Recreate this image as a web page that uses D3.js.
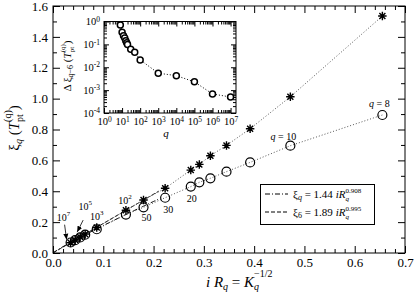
<!DOCTYPE html>
<html>
<head>
<meta charset="utf-8">
<script src="https://cdn.jsdelivr.net/npm/d3@7"></script>
<style>
body { margin: 0; background: #fff; }
svg, svg text { font-family: "Liberation Serif", "Times New Roman", serif; }
</style>
</head>
<body>
<svg width="415" height="298" font-family="Liberation Serif"></svg>
<script>
// q values (one point per q) and iR_q = K_q^(-1/2)
var qValues = [8, 10, 12, 14, 16, 18, 20, 30, 50, 1e2, 1e3, 1e4, 1e5, 1e6, 1e7];
var iR = [0.655, 0.472, 0.392, 0.345, 0.313, 0.291, 0.274, 0.223, 0.180, 0.145, 0.087, 0.064, 0.054, 0.044, 0.035];
// xi_6 (stars) and xi_q (circles)
var xi6 = [1.535, 1.012, 0.805, 0.697, 0.630, 0.574, 0.537, 0.419, 0.343, 0.277, 0.165, 0.122, 0.103, 0.084, 0.067];
var xiQ = [0.894, 0.695, 0.587, 0.527, 0.484, 0.458, 0.430, 0.358, 0.296, 0.249, 0.154, 0.119, 0.101, 0.083, 0.068];
// inset: delta xi_(q-6) vs q
var deltaXi = [0.70, 0.34, 0.24, 0.19, 0.145, 0.118, 0.10, 0.061, 0.045, 0.021, 0.0055, 0.0043, 0.0023, 0.00068, 0.0005];

// power-law fits from the legend: [coef, exponent]
var fitQ = [1.44, 0.908];
var fit6 = [1.89, 0.995];
var fitEnd = 0.21;

var xTicks = [0, 0.1, 0.2, 0.3, 0.4, 0.5, 0.6, 0.7];
var yTicks = [0, 0.2, 0.4, 0.6, 0.8, 1.0, 1.2, 1.4, 1.6];
var insetXExp = [0, 1, 2, 3, 4, 5, 6, 7];
var insetYExp = [0, -1, -2, -3, -4];

var FONT = '"Liberation Serif", "Times New Roman", serif';
var svg = d3.select('svg');

var x = d3.scaleLinear().domain([0, 0.7]).range([53, 405]);
var y = d3.scaleLinear().domain([0, 1.6]).range([253, 6]);

var xMinor = d3.range(0, 0.7001, 0.02).filter(v => Math.abs(v * 10 - Math.round(v * 10)) > 1e-6);
var yMinor = d3.range(0.1, 1.6, 0.2);

function styleAxis(g, fs) {
  g.attr('font-family', FONT).attr('font-size', fs);
  g.select('.domain').remove();
  g.selectAll('line').attr('stroke', '#000');
}

// main axes, ticks pointing inward on all four sides
svg.append('g').attr('transform', 'translate(0,253)')
  .call(d3.axisBottom(x).tickValues(xTicks).tickSize(-7).tickPadding(5).tickFormat(d3.format('.1f')))
  .call(g => styleAxis(g, 13));
svg.append('g').attr('transform', 'translate(0,253)')
  .call(d3.axisBottom(x).tickValues(xMinor).tickSize(-4).tickFormat(''))
  .call(g => styleAxis(g, 13));
svg.append('g').attr('transform', 'translate(0,6)')
  .call(d3.axisTop(x).tickValues(xTicks).tickSize(-7).tickFormat(''))
  .call(g => styleAxis(g, 13));
svg.append('g').attr('transform', 'translate(0,6)')
  .call(d3.axisTop(x).tickValues(xMinor).tickSize(-4).tickFormat(''))
  .call(g => styleAxis(g, 13));

svg.append('g').attr('transform', 'translate(53,0)')
  .call(d3.axisLeft(y).tickValues(yTicks).tickSize(-7).tickPadding(5).tickFormat(d3.format('.1f')))
  .call(g => styleAxis(g, 13));
svg.append('g').attr('transform', 'translate(53,0)')
  .call(d3.axisLeft(y).tickValues(yMinor).tickSize(-4).tickFormat(''))
  .call(g => styleAxis(g, 13));
svg.append('g').attr('transform', 'translate(405,0)')
  .call(d3.axisRight(y).tickValues(yTicks).tickSize(-7).tickFormat(''))
  .call(g => styleAxis(g, 13));
svg.append('g').attr('transform', 'translate(405,0)')
  .call(d3.axisRight(y).tickValues(yMinor).tickSize(-4).tickFormat(''))
  .call(g => styleAxis(g, 13));

svg.append('rect')
  .attr('x', 53).attr('y', 6).attr('width', 352).attr('height', 247)
  .attr('fill', 'none').attr('stroke', '#000').attr('stroke-width', 1);

// stacked sub/superscript helper, returns what the next tspan needs
function stacked(t, sup, sub, fs, up, down, supItalic, subItalic) {
  var a = t.append('tspan').attr('font-size', fs).attr('dy', -up).text(sup);
  if (supItalic) a.attr('font-style', 'italic');
  var b = t.append('tspan').attr('font-size', fs).attr('dy', up + down).text(sub);
  if (subItalic) b.attr('font-style', 'italic');
  var wa = a.node().getComputedTextLength(), wb = b.node().getComputedTextLength();
  b.attr('dx', -wa);
  return { dy: -down, dx: Math.max(0, wa - wb) };
}

// fit curves
var fitXs = d3.range(0, fitEnd + 1e-9, 0.0025);
var line = d3.line().x(d => x(d[0])).y(d => y(d[1]));
svg.append('path')
  .datum(fitXs.map(v => [v, fitQ[0] * Math.pow(v, fitQ[1])]))
  .attr('d', line).attr('fill', 'none').attr('stroke', '#000')
  .attr('stroke-width', 1).attr('stroke-dasharray', '5,2,1,2');
svg.append('path')
  .datum(fitXs.map(v => [v, fit6[0] * Math.pow(v, fit6[1])]))
  .attr('d', line).attr('fill', 'none').attr('stroke', '#000')
  .attr('stroke-width', 1).attr('stroke-dasharray', '4,2');

// dotted connecting lines
var starPts = iR.map((v, i) => [v, xi6[i]]);
var circPts = iR.map((v, i) => [v, xiQ[i]]);
[starPts, circPts].forEach(function(pts) {
  svg.append('path').datum(pts).attr('d', line)
    .attr('fill', 'none').attr('stroke', '#555').attr('stroke-width', 1)
    .attr('stroke-dasharray', '1,2');
});

// eight-armed star symbol
var star8 = {
  draw: function(ctx, size) {
    var r = Math.sqrt(size) / 2, d = r * 0.7071;
    ctx.moveTo(-r, 0); ctx.lineTo(r, 0);
    ctx.moveTo(0, -r); ctx.lineTo(0, r);
    ctx.moveTo(-d, -d); ctx.lineTo(d, d);
    ctx.moveTo(-d, d); ctx.lineTo(d, -d);
  }
};
svg.append('g').selectAll('path').data(starPts).enter().append('path')
  .attr('transform', d => 'translate(' + x(d[0]) + ',' + y(d[1]) + ')')
  .attr('d', d3.symbol().type(star8).size(72))
  .attr('stroke', '#000').attr('stroke-width', 1.4);

svg.append('g').selectAll('circle').data(circPts).enter().append('circle')
  .attr('cx', d => x(d[0])).attr('cy', d => y(d[1])).attr('r', 4.5)
  .attr('fill', 'none').attr('stroke', '#000').attr('stroke-width', 1.2);

// point annotations
function qLabel(i, dx, dy, txt) {
  var t = svg.append('text').attr('font-size', 10).attr('text-anchor', 'middle')
    .attr('x', x(iR[i]) + dx).attr('y', y(xiQ[i]) + dy);
  t.append('tspan').attr('font-style', 'italic').text('q');
  t.append('tspan').text(' = ' + txt);
}
qLabel(0, -3, -8, '8');
qLabel(1, -7, -6, '10');

function numLabel(i, dx, dy, txt) {
  svg.append('text').attr('font-size', 10).attr('text-anchor', 'middle')
    .attr('x', x(iR[i]) + dx).attr('y', y(xiQ[i]) + dy).text(txt);
}
numLabel(6, 1, 15, '20');
numLabel(7, 3, 15, '30');
numLabel(8, 3, 14, '50');

function powLabel(i, dx, dy, e) {
  var t = svg.append('text').attr('font-size', 10).attr('text-anchor', 'middle')
    .attr('x', x(iR[i]) + dx).attr('y', y(xi6[i]) + dy);
  t.append('tspan').text('10');
  t.append('tspan').attr('font-size', 7).attr('dy', -5).text(e);
}
powLabel(9, -1, -6, '2');
powLabel(10, 0, -8, '3');
powLabel(12, 5, -27, '5');
powLabel(14, -7, -22, '7');

svg.append('defs').append('marker')
  .attr('id', 'arr').attr('viewBox', '0 -3 6 6').attr('refX', 6).attr('refY', 0)
  .attr('markerWidth', 6).attr('markerHeight', 6).attr('orient', 'auto')
  .attr('markerUnits', 'userSpaceOnUse')
  .append('path').attr('d', 'M0,-2.5L6,0L0,2.5Z').attr('fill', '#000');

svg.append('line').attr('x1', x(iR[14]) - 6).attr('y1', y(xi6[14]) - 18)
  .attr('x2', x(iR[14]) - 4).attr('y2', y(xi6[14]) - 3)
  .attr('stroke', '#000').attr('stroke-width', 0.8).attr('marker-end', 'url(#arr)');
svg.append('line').attr('x1', x(iR[12]) + 3).attr('y1', y(xi6[12]) - 17)
  .attr('x2', x(iR[12]) - 3).attr('y2', y(xi6[12]) - 5)
  .attr('stroke', '#000').attr('stroke-width', 0.8).attr('marker-end', 'url(#arr)');

// legend
svg.append('rect').attr('x', 260.5).attr('y', 184.5).attr('width', 114).attr('height', 40)
  .attr('fill', '#fff').attr('stroke', '#000').attr('stroke-width', 1);
var legend = [
  { dash: '5,2,1,2', sub: 'q', fit: fitQ, y: 194 },
  { dash: '4,2', sub: '6', fit: fit6, y: 212 }
];
legend.forEach(function(L) {
  svg.append('line').attr('x1', 265).attr('x2', 288).attr('y1', L.y).attr('y2', L.y)
    .attr('stroke', '#000').attr('stroke-dasharray', L.dash);
  var t = svg.append('text').attr('font-size', 11).attr('x', 293).attr('y', L.y + 4);
  t.append('tspan').text('ξ');
  t.append('tspan').attr('font-size', 8).attr('dy', 2).attr('font-style', L.sub === 'q' ? 'italic' : null).text(L.sub);
  t.append('tspan').attr('dy', -2).text(' = ' + L.fit[0].toFixed(2) + ' ');
  t.append('tspan').attr('font-style', 'italic').text('iR');
  stacked(t, L.fit[1].toFixed(3), 'q', 7, 5, 3, false, true);
});

// axis titles
var xt = svg.append('text').attr('font-size', 15).attr('x', 206).attr('y', 287);
xt.append('tspan').attr('font-style', 'italic').text('i R');
xt.append('tspan').attr('font-size', 10).attr('font-style', 'italic').attr('dy', 3).text('q');
xt.append('tspan').attr('dy', -3).text(' =  ');
xt.append('tspan').attr('font-style', 'italic').text('K');
stacked(xt, '\u22121/2', 'q', 10, 10, 3, false, true);

var yt = svg.append('text').attr('font-size', 15).attr('text-anchor', 'middle')
  .attr('transform', 'translate(19,128) rotate(-90)');
yt.append('tspan').text('ξ');
yt.append('tspan').attr('font-size', 10).attr('font-style', 'italic').attr('dy', 3).text('q');
yt.append('tspan').attr('dy', -3).text(' (');
yt.append('tspan').attr('font-style', 'italic').text('T');
var nx = stacked(yt, '(q)', 'pt', 10, 8, 4, false, false);
yt.append('tspan').attr('dy', nx.dy).attr('dx', nx.dx).text(')');

// ---- inset ----
var xi = d3.scaleLog().domain([1, Math.pow(10, 7.3)]).range([104, 236]);
var yi = d3.scaleLog().domain([1e-4, 1]).range([113, 21.5]);

svg.append('rect').attr('x', 104).attr('y', 21.5).attr('width', 132).attr('height', 91.5)
  .attr('fill', '#fff');

var xiMajor = insetXExp.map(e => Math.pow(10, e));
var xiMinor = [];
insetXExp.forEach(function(e) { for (var k = 2; k <= 9; k++) { var v = k * Math.pow(10, e); if (v < Math.pow(10, 7.3)) xiMinor.push(v); } });
var yiMajor = insetYExp.map(e => Math.pow(10, e));
var yiMinor = [];
insetYExp.slice(1).forEach(function(e) { for (var k = 2; k <= 9; k++) yiMinor.push(k * Math.pow(10, e)); });

function supTicks(g, exps) {
  g.selectAll('.tick text').each(function(d, i) {
    var t = d3.select(this);
    t.text(null);
    t.append('tspan').text('10');
    t.append('tspan').attr('font-size', 7.5).attr('dy', '-0.5em').text(exps[i]);
  });
}

svg.append('g').attr('transform', 'translate(0,113)')
  .call(d3.axisBottom(xi).tickValues(xiMajor).tickSize(-5).tickPadding(5))
  .call(g => styleAxis(g, 10.5)).call(g => supTicks(g, insetXExp));
svg.append('g').attr('transform', 'translate(0,113)')
  .call(d3.axisBottom(xi).tickValues(xiMinor).tickSize(-3).tickFormat(''))
  .call(g => styleAxis(g, 10));
svg.append('g').attr('transform', 'translate(0,21.5)')
  .call(d3.axisTop(xi).tickValues(xiMajor).tickSize(-5).tickFormat(''))
  .call(g => styleAxis(g, 10));
svg.append('g').attr('transform', 'translate(0,21.5)')
  .call(d3.axisTop(xi).tickValues(xiMinor).tickSize(-3).tickFormat(''))
  .call(g => styleAxis(g, 10));

svg.append('g').attr('transform', 'translate(104,0)')
  .call(d3.axisLeft(yi).tickValues(yiMajor).tickSize(-5).tickPadding(4))
  .call(g => styleAxis(g, 10.5)).call(g => supTicks(g, insetYExp));
svg.append('g').attr('transform', 'translate(104,0)')
  .call(d3.axisLeft(yi).tickValues(yiMinor).tickSize(-3).tickFormat(''))
  .call(g => styleAxis(g, 10));
svg.append('g').attr('transform', 'translate(236,0)')
  .call(d3.axisRight(yi).tickValues(yiMajor).tickSize(-5).tickFormat(''))
  .call(g => styleAxis(g, 10));
svg.append('g').attr('transform', 'translate(236,0)')
  .call(d3.axisRight(yi).tickValues(yiMinor).tickSize(-3).tickFormat(''))
  .call(g => styleAxis(g, 10));

svg.append('rect').attr('x', 104).attr('y', 21.5).attr('width', 132).attr('height', 91.5)
  .attr('fill', 'none').attr('stroke', '#000').attr('stroke-width', 1);

var insetPts = qValues.map((q, i) => [q, deltaXi[i]]);
var insetLine = d3.line().x(d => xi(d[0])).y(d => yi(d[1]));
svg.append('path').datum(insetPts).attr('d', insetLine)
  .attr('fill', 'none').attr('stroke', '#000').attr('stroke-width', 1)
  .attr('stroke-dasharray', '1,2');
svg.append('g').selectAll('circle').data(insetPts).enter().append('circle')
  .attr('cx', d => xi(d[0])).attr('cy', d => yi(d[1])).attr('r', 3)
  .attr('fill', '#fff').attr('stroke', '#000').attr('stroke-width', 1.5);

svg.append('text').attr('font-size', 11).attr('font-style', 'italic')
  .attr('text-anchor', 'middle').attr('x', 166).attr('y', 137).text('q');

var yit = svg.append('text').attr('font-size', 11).attr('text-anchor', 'middle')
  .attr('transform', 'translate(71,66) rotate(-90)');
yit.append('tspan').text('Δ ξ');
yit.append('tspan').attr('font-size', 8).attr('font-style', 'italic').attr('dy', 2).text('q');
yit.append('tspan').attr('font-size', 8).text('\u22126');
yit.append('tspan').attr('dy', -2).text(' (');
yit.append('tspan').attr('font-style', 'italic').text('T');
var nx2 = stacked(yit, '(q)', 'pt', 7, 6, 3, false, false);
yit.append('tspan').attr('dy', nx2.dy).attr('dx', nx2.dx).text(')');
</script>
</body>
</html>
